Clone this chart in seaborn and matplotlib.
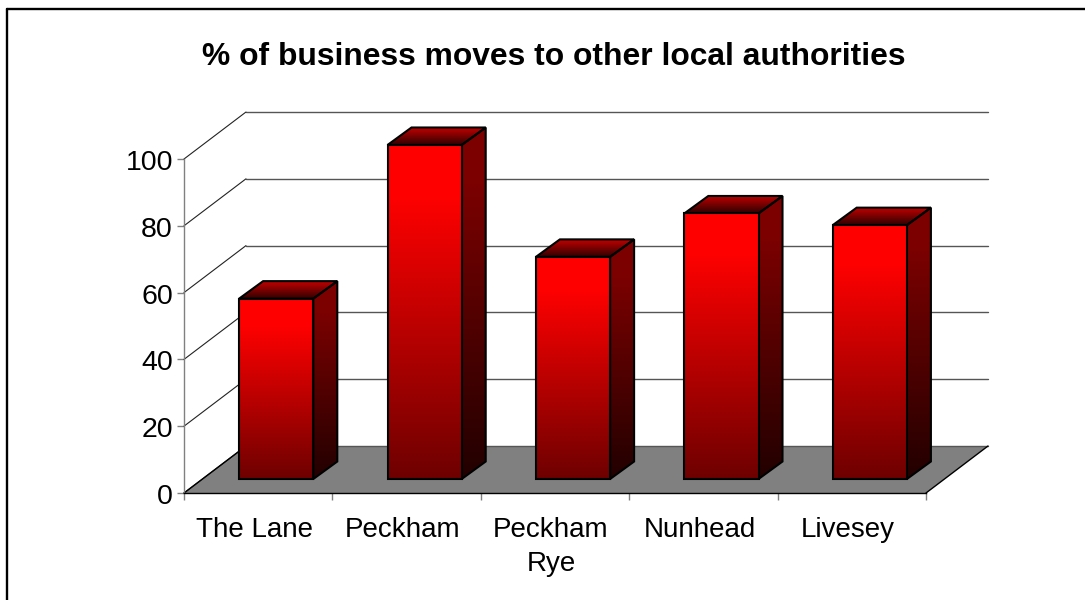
import numpy as np
import pandas as pd
import matplotlib
matplotlib.use("Agg")
import matplotlib.pyplot as plt
from matplotlib.colors import LinearSegmentedColormap
from matplotlib.patches import Polygon
from matplotlib.transforms import ScaledTranslation
import seaborn as sns

# Share of business moves by area
areas = ["The Lane", "Peckham", "Peckham\nRye", "Nunhead", "Livesey"]
shares = [54, 100, 66.5, 79.5, 76]
y_ticks = [0, 20, 40, 60, 80, 100]
title = "% of business moves to other local authorities"

W, H = 1085, 600
sns.set_theme(style="white")
plt.rcParams["font.family"] = ["Liberation Sans", "DejaVu Sans"]

fig = plt.figure(figsize=(W / 100, H / 100), dpi=100, facecolor="white")


def axes_from_pixels(left, top, right, bottom):
    return fig.add_axes([left / W, 1 - bottom / H, (right - left) / W, (bottom - top) / H])


# Chart frame: only the top and left rules are in view
fig.add_artist(plt.Line2D([7 / W, 7 / W], [0, 1 - 9 / H], color="black", lw=1.7))
fig.add_artist(plt.Line2D([7 / W, 1], [1 - 9 / H, 1 - 9 / H], color="black", lw=1.7))

# Walls, floor and value axis
wall = axes_from_pixels(184, 159, 926, 493)
wall.set_xlim(-0.5, 4.5)
wall.set_ylim(0, 100)
wall.patch.set_alpha(0)
for side in ("top", "right"):
    wall.spines[side].set_visible(False)
wall.spines["left"].set_color("#808080")
wall.spines["left"].set_linewidth(1.0)
wall.spines["bottom"].set_color("black")
wall.spines["bottom"].set_linewidth(1.0)
wall.set_yticks(y_ticks)
wall.set_xticks(np.arange(-0.5, 5, 1), minor=False)
wall.set_xticklabels([""] * 6)
wall.set_xticks(np.arange(len(areas)), minor=True)
wall.set_xticklabels(areas, minor=True)
wall.tick_params(axis="x", which="major", bottom=True, length=5, width=1, color="#808080")
wall.tick_params(axis="x", which="minor", bottom=False, length=0, pad=17, labelsize=20,
                 labelcolor="black")
wall.tick_params(axis="y", left=True, length=5, width=1, color="#808080", pad=3,
                 labelsize=20.5, labelcolor="black")
label_shift = ScaledTranslation(-4 / 100, 0, fig.dpi_scale_trans)
for label in wall.get_xticklabels(minor=True):
    label.set_transform(label.get_transform() + label_shift)
    label.set_linespacing(1.4)
value_shift = ScaledTranslation(0, -1 / 100, fig.dpi_scale_trans)
for label in wall.get_yticklabels():
    label.set_transform(label.get_transform() + value_shift)
wall.set_ylabel("")
wall.set_xlabel("")

depth_x = 62 / (742 / 5)
depth_y = 47 / (334 / 100)
x0, x1 = -0.5, 4.5
wall.add_patch(Polygon([(x0, 0), (x1, 0), (x1 + depth_x, depth_y), (x0 + depth_x, depth_y)],
                       closed=True, facecolor="#808080", edgecolor="none", clip_on=False, zorder=1))
wall.plot([x1, x1 + depth_x], [0, depth_y], color="black", lw=1, clip_on=False, zorder=2)
wall.plot([x0, x0 + depth_x], [0, depth_y], color="black", lw=1, clip_on=False, zorder=2)
for v in y_ticks:
    wall.plot([x0 + depth_x, x1 + depth_x], [v + depth_y] * 2, color="#555555", lw=1,
              clip_on=False, zorder=1.5)
    wall.plot([x0, x0 + depth_x], [v, v + depth_y], color="#222222", lw=0.8,
              clip_on=False, zorder=1.5)

# Bars stand on the floor, set back from the front edge
ax = axes_from_pixels(202, 145, 944, 479)
ax.patch.set_alpha(0)
data = pd.DataFrame({"area": areas, "share": shares})
sns.barplot(data=data, x="area", y="share", width=0.5, ax=ax, color="red", saturation=1)
ax.set_xlim(-0.5, 4.5)
ax.set_ylim(0, 100)
ax.axis("off")

front_map = LinearSegmentedColormap.from_list(
    "front", [(0, "#ff0000"), (0.15, "#ff0000"), (1, "#6e0000")])
side_map = LinearSegmentedColormap.from_list(
    "side", [(0, "#7c0000"), (0.15, "#7c0000"), (1, "#220000")])
top_map = LinearSegmentedColormap.from_list("top", ["#c40000", "#300000"])
ramp = np.linspace(0, 1, 256).reshape(-1, 1)
bar_dx = 24 / (742 / 5)
bar_dy = 17.5 / (334 / 100)


def shaded_face(points, cmap, z):
    """Fill a polygon with a vertical colour ramp over its own height."""
    pts = np.array(points)
    extent = [pts[:, 0].min(), pts[:, 0].max(), pts[:, 1].min(), pts[:, 1].max()]
    image = ax.imshow(ramp, cmap=cmap, extent=extent, origin="upper", aspect="auto", zorder=z)
    outline = Polygon(points, closed=True, facecolor="none", edgecolor="black", lw=1.5,
                      joinstyle="miter", zorder=z + 1, clip_on=False)
    ax.add_patch(outline)
    image.set_clip_box(fig.bbox)
    image.set_clip_path(Polygon(points, closed=True, transform=ax.transData))


for bar in list(ax.patches):
    left, w, h = bar.get_x(), bar.get_width(), bar.get_height()
    right = left + w
    bar.set_visible(False)
    shaded_face([(left, h), (right, h), (right + bar_dx, h + bar_dy), (left + bar_dx, h + bar_dy)],
                top_map, 3)
    shaded_face([(right, 0), (right + bar_dx, bar_dy), (right + bar_dx, h + bar_dy), (right, h)],
                side_map, 3)
    shaded_face([(left, 0), (right, 0), (right, h), (left, h)], front_map, 5)

ax.set_xlim(-0.5, 4.5)
ax.set_ylim(0, 100)

fig.text(554 / W, 1 - 57 / H, title, ha="center", va="center", fontsize=22.9, fontweight="bold",
         color="black")

fig.savefig("out.png", dpi=100, facecolor="white")
